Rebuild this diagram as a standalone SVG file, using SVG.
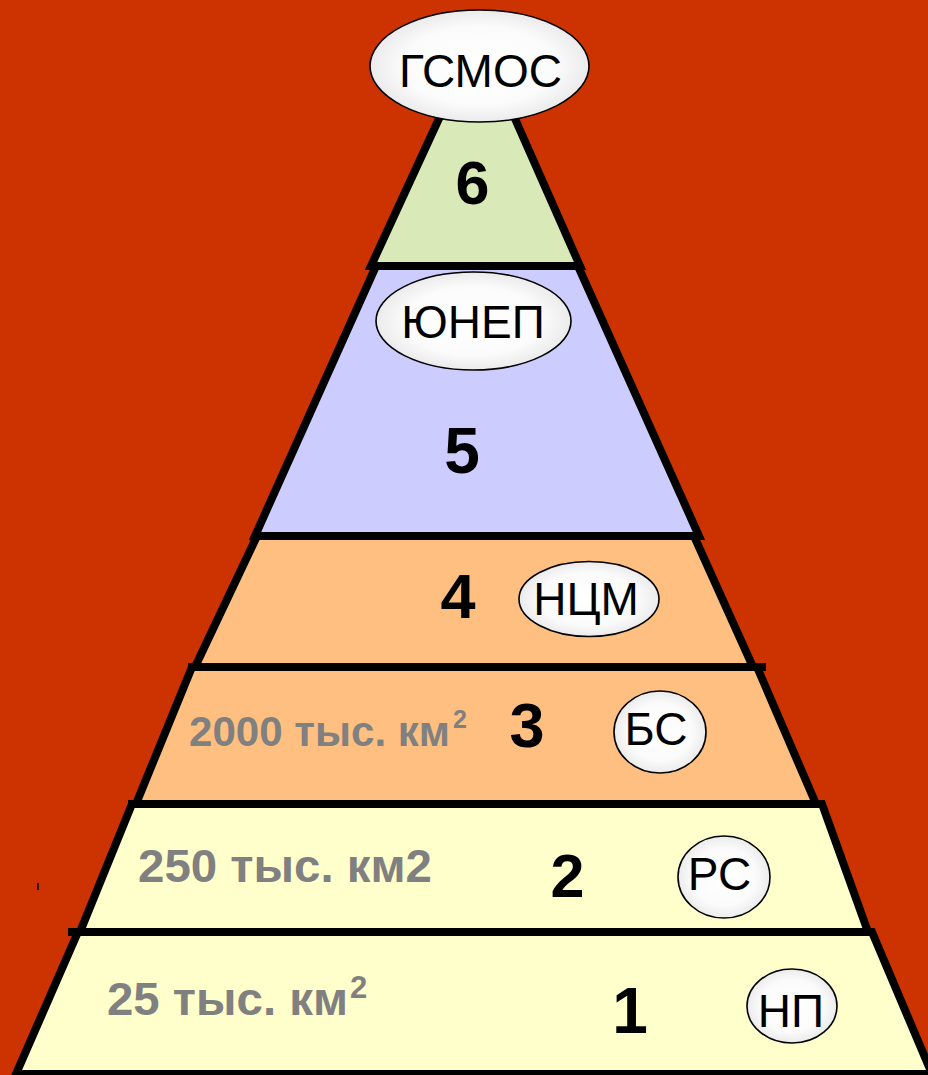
<svg xmlns="http://www.w3.org/2000/svg" width="928" height="1075" viewBox="0 0 928 1075">
  <defs>
    <radialGradient id="eg" cx="50%" cy="50%" r="50%">
      <stop offset="0" stop-color="#ffffff"/>
      <stop offset="0.7" stop-color="#fbfbfb"/>
      <stop offset="1" stop-color="#ebebeb"/>
    </radialGradient>
    <style>
      .layer { stroke: #000; stroke-width: 8; stroke-linejoin: miter; }
      .div { stroke: #000; stroke-width: 8; fill: none; }
      .num { font-family: "Liberation Sans", Arial, sans-serif; font-weight: bold; fill: #000; text-anchor: middle; }
      .lbl { font-family: "Liberation Sans", Arial, sans-serif; fill: #000; text-anchor: middle; font-size: 46px; }
      .oval { fill: url(#eg); stroke: #000; stroke-width: 1.6; }
      .area { font-family: "Liberation Sans", Arial, sans-serif; font-weight: bold; fill: #808080; }
    </style>
  </defs>
  <rect x="0" y="0" width="928" height="1075" fill="#CC3300"/>

  <g id="layer-6">
    <polygon class="layer" fill="#D9EAB8" points="442,112 512,112 580,266 371,266"/>
    <text class="num" x="472.5" y="204" font-size="61">6</text>
  </g>
  <g id="layer-5">
    <polygon class="layer" fill="#CCCCFF" points="376,266 578,266 699,536 255,536"/>
    <text class="num" x="462" y="472.5" font-size="64">5</text>
  </g>
  <g id="layer-4">
    <polygon class="layer" fill="#FFBF80" points="257,536 694,536 753,667 195,667"/>
    <text class="num" x="458" y="618" font-size="63">4</text>
  </g>
  <g id="layer-3">
    <polygon class="layer" fill="#FFBF80" points="192,667 757,667 816,804 136,804"/>
    <text class="num" x="527" y="746.5" font-size="63">3</text>
    <text class="area" x="189" y="745.5" font-size="42" textLength="261" lengthAdjust="spacingAndGlyphs">2000 тыс. км</text>
    <text class="area" x="453" y="728" font-size="25">2</text>
  </g>
  <g id="layer-2">
    <polygon class="layer" fill="#FFFFCC" points="132,804 822,804 868,932 80,932"/>
    <text class="num" x="567.5" y="896.5" font-size="61">2</text>
    <text class="area" x="138" y="881.5" font-size="47" textLength="294" lengthAdjust="spacingAndGlyphs">250 тыс. км2</text>
  </g>
  <g id="layer-1">
    <polygon class="layer" fill="#FFFFCC" points="78,932 872,932 932,1074 16,1074"/>
    <text class="num" x="630" y="1033" font-size="64">1</text>
    <text class="area" x="107" y="1015" font-size="47" textLength="241" lengthAdjust="spacingAndGlyphs">25 тыс. км</text>
    <text class="area" x="350" y="998" font-size="31">2</text>
  </g>

  <g id="connectors">
    <line class="div" x1="188" y1="667" x2="766" y2="667"/>
    <line class="div" x1="128" y1="804" x2="820" y2="804"/>
    <line class="div" x1="68" y1="932" x2="870" y2="932"/>
    <line x1="38" y1="883" x2="38" y2="890" stroke="#000" stroke-width="1.5"/>
  </g>

  <g id="node-gsmos">
    <ellipse class="oval" cx="479.5" cy="66" rx="109.5" ry="56"/>
    <text class="lbl" x="480.5" y="87" font-size="47">ГСМОС</text>
  </g>
  <g id="node-unep">
    <ellipse class="oval" cx="473.5" cy="321" rx="97.5" ry="49"/>
    <text class="lbl" x="473" y="338" font-size="48">ЮНЕП</text>
  </g>
  <g id="node-ncm">
    <ellipse class="oval" cx="589" cy="599" rx="70" ry="37.5"/>
    <text class="lbl" x="586" y="615">НЦМ</text>
  </g>
  <g id="node-bs">
    <ellipse class="oval" cx="660" cy="732" rx="46" ry="41"/>
    <text class="lbl" x="656" y="745">БС</text>
  </g>
  <g id="node-rs">
    <ellipse class="oval" cx="724" cy="877" rx="46" ry="41"/>
    <text class="lbl" x="719.5" y="890">РС</text>
  </g>
  <g id="node-np">
    <ellipse class="oval" cx="792" cy="1006" rx="45" ry="37"/>
    <text class="lbl" x="791" y="1027">НП</text>
  </g>
</svg>
